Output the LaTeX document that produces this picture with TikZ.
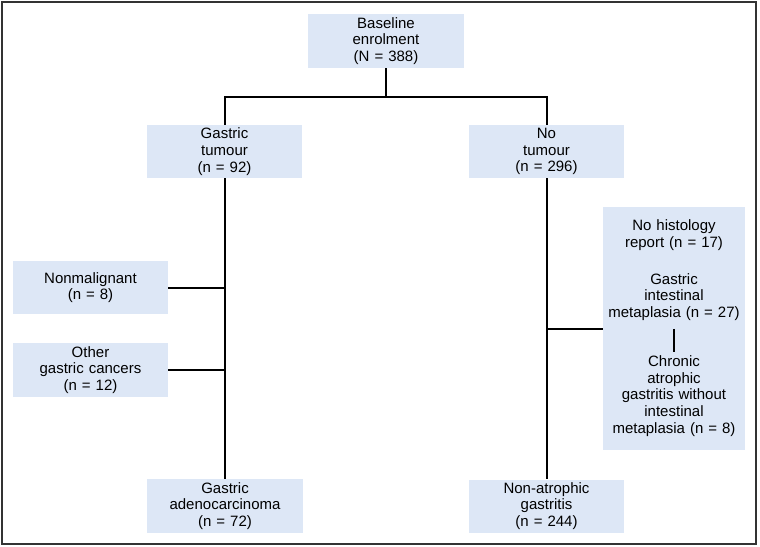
\documentclass[tikz,border=0pt]{standalone}
\usepackage{fontspec}
\setmainfont{Liberation Sans}
\usetikzlibrary{positioning, backgrounds}
\definecolor{boxblue}{RGB}{221,231,246}
\tikzset{
    base/.style = {
        fill=boxblue, text centered, inner sep=0pt,
        font=\fontsize{15}{16.7}\selectfont
    },
    % Boxes
    stage/.style = {base, minimum width=155pt, minimum height=53pt, text width=150pt},
    panel/.style = {fill=boxblue, inner sep=0pt, minimum width=142pt, minimum height=243pt},
    entry/.style = {text centered, inner sep=0pt, text width=140pt, font=\fontsize{15}{16.7}\selectfont},
    % Connectors
    link/.style = {line width=2pt, black},
    frame/.style = {line width=1.2pt, black!80}
}

\begin{document}
\begin{tikzpicture}[x=1pt, y=-1pt]
    \useasboundingbox (0,0) rectangle (760,546);
    \draw [frame] (2,2) rectangle (756,544);

    % Top of the tree
    \node (baseline) [stage, minimum width=156pt, minimum height=54pt] at (386,41) {Baseline\\enrolment\\(N = 388)};
    \coordinate (split) at (386,97);

    % Second row
    \node (gastric) [stage] at (224.5,151.5) {Gastric\\tumour\\(n = 92)};
    \node (notumour) [stage] at (546.5,151.5) {No\\tumour\\(n = 296)};

    % Excluded on the left
    \node (nonmalig) [stage] at (90.5,287.5) {Nonmalignant\\(n = 8)};
    \node (othercancer) [stage, minimum height=54pt] at (90.5,370) {Other\\gastric cancers\\(n = 12)};

    % Excluded on the right
    \node (histpanel) [panel] at (674,328.5) {};
    \node (nohisto) [entry] at (674,235) {No histology\\report (n = 17)};
    \node (metaplasia) [entry] at (674,297) {Gastric\\intestinal\\metaplasia (n = 27)};
    \node (chronic) [entry] at (674,396) {Chronic\\atrophic\\gastritis without\\intestinal\\metaplasia (n = 8)};

    % Bottom row
    \node (adeno) [stage, minimum width=156pt, minimum height=54pt] at (225,506) {Gastric\\adenocarcinoma\\(n = 72)};
    \node (nonatroph) [stage] at (546.5,506) {Non-atrophic\\gastritis\\(n = 244)};

    % --- Connections ---
    \draw [link] (baseline) -- (split);
    \draw [link] (gastric.north) |- (split) -| (notumour.north);

    % Left trunk
    \draw [link] (gastric) -- (gastric |- adeno.north);
    \draw [link] (nonmalig.east) -- (nonmalig.east -| gastric);
    \draw [link] (othercancer.east) -- (othercancer.east -| gastric);

    % Right trunk
    \draw [link] (notumour) -- (notumour |- nonatroph.north);
    \draw [link] (histpanel.west) -- (histpanel.west -| notumour);
    \draw [link] ([yshift=-8pt]metaplasia.south) -- ([yshift=3pt]chronic.north);

\end{tikzpicture}
\end{document}
